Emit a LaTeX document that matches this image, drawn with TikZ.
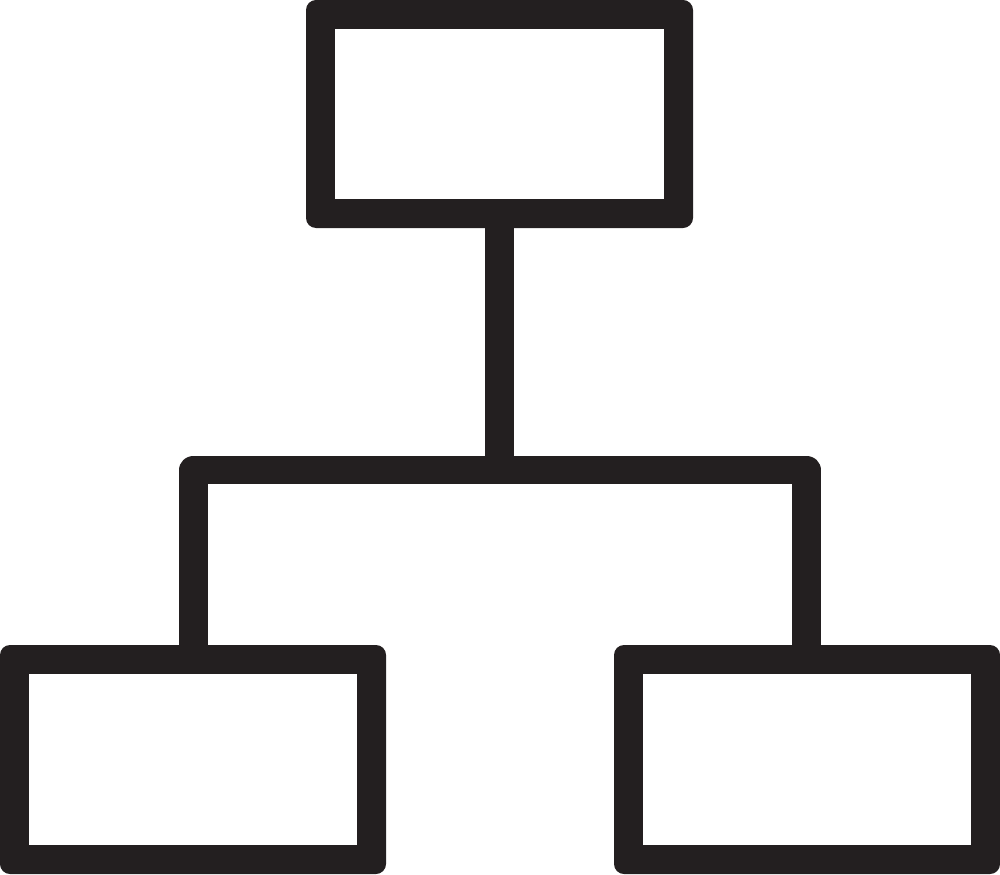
\documentclass[tikz,border=0pt]{standalone}
\usetikzlibrary{calc}
\definecolor{ink}{HTML}{231F20}
\tikzset{
  box/.style={rectangle, fill=ink, rounded corners=0.1cm, inner sep=0pt, outer sep=0pt,
    path picture={\fill[white, sharp corners] ($(path picture bounding box.south west)+(0.29,0.29)$) rectangle ($(path picture bounding box.north east)-(0.29,0.29)$);}},
  link/.style={draw=ink, line width=0.285cm, line join=round}
}
\begin{document}
\begin{tikzpicture}
\useasboundingbox (0,0) rectangle (10,8.74);
\node[box, minimum width=3.87cm, minimum height=2.28cm] (top) at (4.995,7.60) {};
\node[box, minimum width=3.86cm, minimum height=2.29cm] (left) at (1.93,1.145) {};
\node[box, minimum width=3.86cm, minimum height=2.29cm] (right) at (8.07,1.145) {};
\coordinate (jc) at (4.995,4.04);
\coordinate (jl) at (1.935,4.04);
\coordinate (jr) at (8.065,4.04);
\draw[link] ([yshift=0.1cm]top.south) -- (jc);
\draw[link] ([yshift=-0.1cm]left.north -| jl) -- (jl) -- (jr) -- ([yshift=-0.1cm]right.north -| jr);
\end{tikzpicture}
\end{document}
